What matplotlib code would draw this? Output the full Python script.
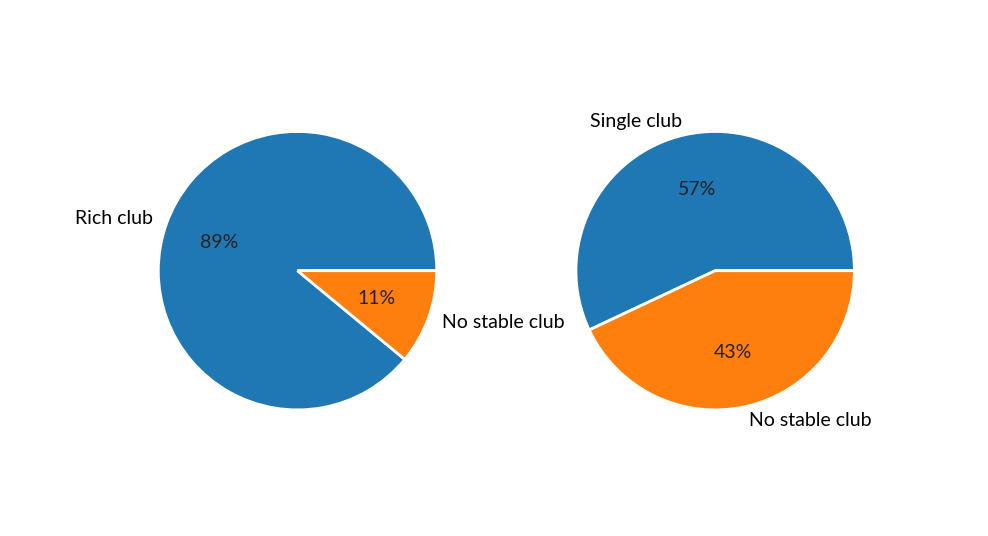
import matplotlib
matplotlib.use("Agg")
import matplotlib.pyplot as plt

plt.rcParams['font.family'] = ['Lato', 'DejaVu Sans']
plt.rcParams['font.size'] = 14

labels_left = ["Rich club", "No stable club"]
values_left = [89, 11]
labels_right = ["Single club", "No stable club"]
values_right = [57, 43]
colors = ['#1f77b4', '#ff7f0e']

fig, axes = plt.subplots(1, 2, figsize=(9.88, 5.36), dpi=100)
for ax, labels, vals in [(axes[0], labels_left, values_left), (axes[1], labels_right, values_right)]:
    wedges, texts, autotexts = ax.pie(vals, labels=labels, colors=colors, autopct='%1.0f%%',
                                      wedgeprops={'edgecolor': 'white', 'linewidth': 2})
    for t in autotexts:
        t.set_color('#222222')

plt.savefig("out.png", dpi=100)
